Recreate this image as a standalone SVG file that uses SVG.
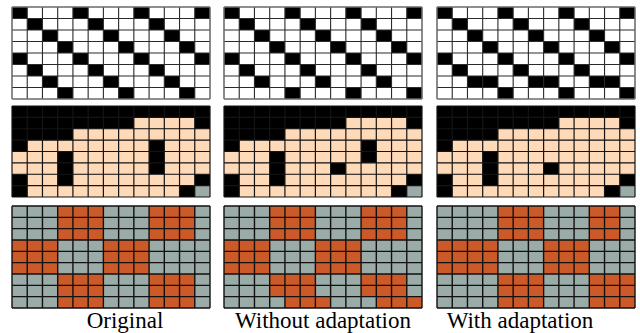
<svg xmlns="http://www.w3.org/2000/svg" xmlns:xlink="http://www.w3.org/1999/xlink" width="640" height="333" viewBox="0 0 640 333">
<style>
.w{fill:#ffffff}
.k{fill:#000000}
.p{fill:#ffdab9}
.g{fill:#9aaba8}
.o{fill:#cc5a28}
.gl{fill:none;vector-effect:non-scaling-stroke}
.ln{stroke:#2a2a2a;stroke-width:1.1}
.ln2{stroke:#141414;stroke-width:1.2}
.ln3{stroke:#111;stroke-width:1.4}
.bd{fill:none;stroke:#8a8a8a;stroke-width:1;vector-effect:non-scaling-stroke}
.lbl{font-family:"Liberation Serif","Times New Roman",serif;font-size:23px;fill:#000;text-anchor:middle}
</style>
<defs>
<path id="L8" class="gl" d="M0 0V8M1 0V8M2 0V8M3 0V8M4 0V8M5 0V8M6 0V8M7 0V8M8 0V8M9 0V8M10 0V8M11 0V8M12 0V8M13 0V8M0 0H13M0 1H13M0 2H13M0 3H13M0 4H13M0 5H13M0 6H13M0 7H13M0 8H13"/>
<path id="L9" class="gl" d="M0 0V9M1 0V9M2 0V9M3 0V9M4 0V9M5 0V9M6 0V9M7 0V9M8 0V9M9 0V9M10 0V9M11 0V9M12 0V9M13 0V9M0 0H13M0 1H13M0 2H13M0 3H13M0 4H13M0 5H13M0 6H13M0 7H13M0 8H13M0 9H13"/>
<g id="diag">
<rect class="w" x="0" y="0" width="13" height="8"/>
<rect class="k" x="0" y="0" width="1" height="1"/><rect class="k" x="4" y="0" width="1" height="1"/><rect class="k" x="8" y="0" width="1" height="1"/><rect class="k" x="12" y="0" width="1" height="1"/>
<rect class="k" x="1" y="1" width="1" height="1"/><rect class="k" x="5" y="1" width="1" height="1"/><rect class="k" x="9" y="1" width="1" height="1"/>
<rect class="k" x="2" y="2" width="1" height="1"/><rect class="k" x="6" y="2" width="1" height="1"/><rect class="k" x="10" y="2" width="1" height="1"/>
<rect class="k" x="3" y="3" width="1" height="1"/><rect class="k" x="7" y="3" width="1" height="1"/><rect class="k" x="11" y="3" width="1" height="1"/>
<rect class="k" x="0" y="4" width="1" height="1"/><rect class="k" x="4" y="4" width="1" height="1"/><rect class="k" x="8" y="4" width="1" height="1"/><rect class="k" x="12" y="4" width="1" height="1"/>
<rect class="k" x="1" y="5" width="1" height="1"/><rect class="k" x="5" y="5" width="1" height="1"/><rect class="k" x="9" y="5" width="1" height="1"/>
<rect class="k" x="2" y="6" width="1" height="1"/><rect class="k" x="6" y="6" width="1" height="1"/><rect class="k" x="10" y="6" width="1" height="1"/>
<rect class="k" x="3" y="7" width="1" height="1"/><rect class="k" x="7" y="7" width="1" height="1"/><rect class="k" x="11" y="7" width="1" height="1"/>
</g>
</defs>

<!-- Row 1 -->
<g id="r1-original" transform="translate(12,7) scale(15.2308,11.5)">
<use xlink:href="#diag"/>
<use xlink:href="#L8" class="ln"/>
<rect class="bd" x="0" y="0" width="13" height="8"/>
</g>
<g id="r1-without" transform="translate(224,7) scale(15.2308,11.5)">
<use xlink:href="#diag"/>
<rect class="w" x="0" y="7" width="13" height="1"/>
<rect class="k" x="4" y="7" width="1" height="1"/><rect class="k" x="8" y="7" width="1" height="1"/><rect class="k" x="12" y="7" width="1" height="1"/>
<use xlink:href="#L8" class="ln"/>
<rect class="bd" x="0" y="0" width="13" height="8"/>
</g>
<g id="r1-with" transform="translate(437,7) scale(15.2308,11.5)">
<use xlink:href="#diag"/>
<rect class="w" x="0" y="6" width="13" height="2"/>
<rect class="k" x="2" y="6" width="2" height="1"/><rect class="k" x="6" y="6" width="2" height="1"/><rect class="k" x="10" y="6" width="2" height="1"/>
<rect class="k" x="4" y="7" width="1" height="1"/><rect class="k" x="8" y="7" width="1" height="1"/><rect class="k" x="12" y="7" width="1" height="1"/>
<use xlink:href="#L8" class="ln"/>
<rect class="bd" x="0" y="0" width="13" height="8"/>
</g>

<!-- Row 2 -->
<g id="r2-original" transform="translate(12,106) scale(15.2308,11.375)">
<rect class="k" x="0" y="0" width="13" height="8"/>
<rect class="p" x="8" y="1" width="4" height="1"/>
<rect class="p" x="4" y="2" width="9" height="1"/>
<rect class="p" x="1" y="3" width="8" height="1"/><rect class="p" x="10" y="3" width="3" height="1"/>
<rect class="p" x="0" y="4" width="3" height="2"/><rect class="p" x="4" y="4" width="5" height="2"/><rect class="p" x="10" y="4" width="3" height="2"/>
<rect class="p" x="1" y="6" width="2" height="1"/><rect class="p" x="4" y="6" width="8" height="1"/>
<rect class="p" x="1" y="7" width="10" height="1"/><rect class="g" x="12" y="7" width="1" height="1"/>
<use xlink:href="#L8" class="ln2"/>
</g>
<g id="r2-without" transform="translate(224,106) scale(15.2308,11.375)">
<rect class="k" x="0" y="0" width="13" height="8"/>
<rect class="p" x="8" y="1" width="4" height="1"/>
<rect class="p" x="4" y="2" width="9" height="1"/>
<rect class="p" x="1" y="3" width="8" height="1"/><rect class="p" x="10" y="3" width="3" height="1"/>
<rect class="p" x="0" y="4" width="3" height="1"/><rect class="p" x="4" y="4" width="5" height="1"/><rect class="p" x="10" y="4" width="3" height="1"/>
<rect class="p" x="0" y="5" width="3" height="1"/><rect class="p" x="4" y="5" width="3" height="1"/><rect class="p" x="8" y="5" width="5" height="1"/>
<rect class="p" x="1" y="6" width="2" height="1"/><rect class="p" x="4" y="6" width="8" height="1"/>
<rect class="p" x="1" y="7" width="10" height="1"/><rect class="g" x="12" y="7" width="1" height="1"/>
<use xlink:href="#L8" class="ln2"/>
</g>
<g id="r2-with" transform="translate(437,106) scale(15.2308,11.375)">
<rect class="k" x="0" y="0" width="13" height="8"/>
<rect class="p" x="8" y="1" width="4" height="1"/>
<rect class="p" x="4" y="2" width="9" height="1"/>
<rect class="p" x="1" y="3" width="12" height="1"/>
<rect class="p" x="0" y="4" width="3" height="1"/><rect class="p" x="4" y="4" width="9" height="1"/>
<rect class="p" x="0" y="5" width="3" height="1"/><rect class="p" x="4" y="5" width="3" height="1"/><rect class="p" x="8" y="5" width="5" height="1"/>
<rect class="p" x="1" y="6" width="2" height="1"/><rect class="p" x="4" y="6" width="8" height="1"/>
<rect class="p" x="1" y="7" width="10" height="1"/><rect class="g" x="12" y="7" width="1" height="1"/>
<use xlink:href="#L8" class="ln2"/>
</g>

<!-- Row 3 -->
<g id="r3-original" transform="translate(12,206) scale(15.2308,11.333)">
<rect class="g" x="0" y="0" width="13" height="9"/>
<rect class="o" x="3" y="0" width="3" height="3"/><rect class="o" x="9" y="0" width="3" height="3"/>
<rect class="o" x="0" y="3" width="3" height="3"/><rect class="o" x="6" y="3" width="3" height="3"/>
<rect class="o" x="3" y="6" width="3" height="3"/><rect class="o" x="9" y="6" width="3" height="3"/>
<use xlink:href="#L9" class="ln3"/>
</g>
<g id="r3-without" transform="translate(224,206) scale(15.2308,11.333)">
<rect class="g" x="0" y="0" width="13" height="9"/>
<rect class="o" x="3" y="0" width="3" height="3"/><rect class="o" x="9" y="0" width="3" height="3"/>
<rect class="o" x="0" y="3" width="3" height="3"/><rect class="o" x="6" y="3" width="3" height="3"/>
<rect class="o" x="3" y="6" width="3" height="2"/><rect class="o" x="9" y="6" width="3" height="2"/>
<rect class="o" x="4" y="8" width="3" height="1"/><rect class="o" x="10" y="8" width="3" height="1"/>
<use xlink:href="#L9" class="ln3"/>
</g>
<g id="r3-with" transform="translate(437,206) scale(15.2308,11.333)">
<rect class="g" x="0" y="0" width="13" height="9"/>
<rect class="o" x="4" y="0" width="3" height="3"/><rect class="o" x="10" y="0" width="2" height="3"/>
<rect class="o" x="0" y="3" width="4" height="3"/><rect class="o" x="7" y="3" width="3" height="3"/>
<rect class="o" x="4" y="6" width="3" height="3"/><rect class="o" x="10" y="6" width="3" height="3"/>
<use xlink:href="#L9" class="ln3"/>
</g>

<!-- Labels -->
<g id="labels">
<text class="lbl" x="125" y="328">Original</text>
<text class="lbl" x="323" y="328">Without adaptation</text>
<text class="lbl" x="520" y="328">With adaptation</text>
</g>
</svg>
